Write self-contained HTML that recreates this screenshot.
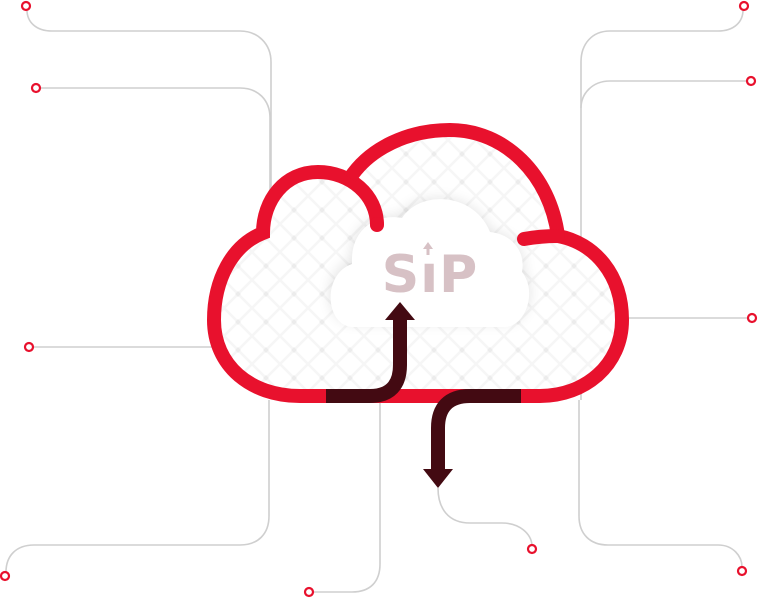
<!DOCTYPE html>
<html><head><meta charset="utf-8"><style>
html,body{margin:0;padding:0;background:#fff;width:758px;height:598px;overflow:hidden}
svg{display:block}
</style></head><body>
<svg width="758" height="598" viewBox="0 0 758 598" xmlns="http://www.w3.org/2000/svg">
<defs>
<pattern id="lat" width="28" height="28" patternUnits="userSpaceOnUse">
<rect width="28" height="28" fill="#fff"/>
<path d="M0 0 L28 28 M28 0 L0 28" stroke="#f6f6f6" stroke-width="2.5"/>
<rect x="12" y="12" width="4" height="4" fill="#ececec" transform="rotate(45 14 14)"/>
</pattern>
<filter id="sh" x="-20%" y="-20%" width="140%" height="140%"><feGaussianBlur stdDeviation="7"/></filter>
</defs>
<g fill="none" stroke="#cfcfcf" stroke-width="1.6">
<path d="M27 10 C27 22 36 31 52 31 L240 31 C258 31 271 44 271 62 L271 200"/>
<path d="M40 88 L240 88 C258 88 270 100 270 118 L270 200"/>
<path d="M33 347 L215 347"/>
<path d="M6 572 C6 556 16 545 34 545 L240 545 C258 545 269 534 269 516 L269 400"/>
<path d="M313 592 L352 592 C370 592 380 582 380 564 L380 400"/>
<path d="M438 488 C438 508 448 523 470 523 L502 523 C520 523 531 534 532 545"/>
<path d="M743 10 C743 22 734 31 718 31 L610 31 C592 31 581 44 581 62 L581 400"/>
<path d="M747 81 L610 81 C592 81 581 94 581 108"/>
<path d="M748 318 L625 318"/>
<path d="M742 567 C742 556 733 545 718 545 L608 545 C590 545 579 534 579 516 L579 400"/>
</g>
<g fill="#fff" stroke="#e8112d" stroke-width="2.2">
<circle cx="26" cy="6" r="4"/><circle cx="36" cy="88" r="4"/><circle cx="29" cy="347" r="4"/>
<circle cx="5" cy="576" r="4"/><circle cx="309" cy="592" r="4"/><circle cx="532" cy="549" r="4"/>
<circle cx="744" cy="6" r="4"/><circle cx="751" cy="81" r="4"/><circle cx="752" cy="318" r="4"/>
<circle cx="742" cy="571" r="4"/>
</g>
<path d="M263 233 C263 200 285 172 318 172 C330 172 342 175 352 170 C372 145 405 130 450 130 C505 130 550 175 558 236 C595 243 622 275 622 320 C622 365 585 396 540 396 L300 396 C250 396 214 365 214 320 C214 280 232 245 263 233 Z" fill="url(#lat)"/>
<path d="M352 322 C325 320 322 272 352 262 C350 226 378 214 400 218 C418 190 474 192 490 232 C512 234 526 252 522 272 C538 292 525 322 505 322 Z" fill="#000" opacity="0.12" filter="url(#sh)"/>
<path d="M352 327 C325 325 322 274 352 264 C350 228 378 213 402 218 C420 190 474 192 490 232 C512 234 526 252 522 272 C538 292 525 327 505 327 Z" fill="#fff"/>
<text x="430" y="292" text-anchor="middle" font-family="DejaVu Sans, sans-serif" font-weight="bold" font-size="52" fill="#d7c1c5" letter-spacing="1">SıP</text>
<path d="M428 242 L423 249 L426.5 249 L426.5 255 L429.5 255 L429.5 249 L433 249 Z" fill="#d7c1c5"/>
<g fill="none" stroke="#e8112d" stroke-width="14" stroke-linecap="round">
<path d="M377 225 C377 195 350 172 318 172 C285 172 263 200 263 233 C232 245 214 280 214 320 C214 365 250 396 300 396 L540 396 C585 396 622 365 622 320 C622 275 595 243 558 236" stroke-linecap="butt"/>
<path d="M377 225 L377 224"/>
<path d="M350 178 C370 148 408 130 450 130 C505 130 550 175 558 236" stroke-linecap="butt"/>
<path d="M524 239 C535 237 545 236 558 236"/>
</g>
<g fill="none" stroke="#430a12" stroke-width="14">
<path d="M326 396 L370 396 C390 396 400 385 400 365 L400 318"/>
<path d="M521 396 L470 396 C448 396 438 408 438 428 L438 470"/>
</g>
<path d="M385 320 L400 302 L415 320 Z" fill="#430a12"/>
<path d="M423 469 L453 469 L438 488 Z" fill="#430a12"/>
</svg>
</body></html>
